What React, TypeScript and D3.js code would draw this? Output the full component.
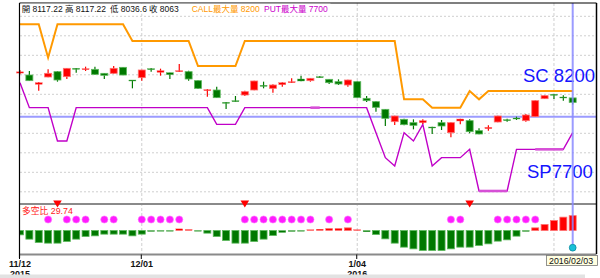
import React from "react";
import * as d3 from "d3";

const opens = [8415,8392,8280,8368,8432,8372,8472,8456,8460,8412,8412,8484,8332,8360,8468,8424,8420,8432,8432,8324,8208,8212,8064,8084,8152,8212,8268,8232,8276,8300,8344,8324,8372,8340,8312,8272,8312,8112,8072,7980,7832,7860,7820,7820,7768,7820,7700,7840,7844,7724,7748,7828,7856,7876,7844,7892,8108,8160,8128,8117.22];
const highs = [8450,8440,8308,8460,8440,8476,8476,8492,8492,8416,8500,8488,8332,8456,8476,8468,8420,8524,8444,8328,8224,8252,8068,8140,8204,8324,8312,8280,8304,8352,8384,8356,8380,8344,8340,8336,8316,8140,8076,7984,7904,7868,7860,7860,7772,7852,7824,7868,7860,7752,7788,7904,7868,7892,7924,8088,8148,8160,8148,8117.22];
const lows = [8400,8320,8204,8364,8312,8344,8420,8440,8392,8344,8408,8388,8232,8324,8432,8384,8344,8428,8324,8224,8132,8116,7984,8072,8140,8208,8232,8180,8252,8296,8316,8312,8360,8284,8272,8252,8116,8068,7952,7780,7792,7788,7740,7804,7684,7732,7644,7800,7692,7680,7724,7824,7832,7852,7832,7888,8104,8104,8084,8036.6];
const closes = [8430,8324,8300,8412,8332,8472,8464,8468,8400,8388,8472,8392,8324,8452,8460,8444,8396,8444,8344,8232,8216,8120,8056,8076,8192,8320,8260,8272,8300,8312,8320,8352,8364,8300,8284,8332,8120,8084,8004,7872,7900,7796,7788,7844,7760,7780,7820,7864,7712,7684,7764,7900,7848,7868,7912,8084,8144,8152,8120,8063];

const callMax = [9000,9000,9000,8600,9000,9000,9000,9000,9000,9000,9000,9000,8800,8800,8800,8800,8800,8800,8800,8500,8500,8500,8500,8500,8800,8800,8800,8800,8800,8800,8800,8800,8800,8800,8800,8800,8800,8800,8800,8800,8800,8100,8100,8100,8000,8000,8000,8000,8200,8100,8200,8200,8200,8200,8200,8200,8200,8200,8200,8200];
const putMax = [8300,8000,8000,8000,7600,7600,8000,8000,8000,8000,8000,8000,8000,8000,8000,8000,8000,8000,8000,8000,8000,7800,7800,7800,8000,8000,8000,8000,8000,8000,8000,8000,8000,8000,8000,8000,8000,8000,7700,7400,7300,7700,7600,7800,7300,7400,7400,7400,7500,7000,7000,7000,7000,7500,7500,7500,7500,7500,7500,7700];
const putHighlight = [[31, 32], [49, 52], [55, 58]];

const ratio = [-8.7,-17.3,-24,-25.3,-25.3,-22,-17.3,-12,-10.7,-7.3,-7.3,-7.3,-10.7,-7.3,-2,-0.7,-0.7,3.3,2,-0.7,-5.3,-12,-20,-25.3,-25.3,-22,-17.3,-10,-4,-2,-0.7,1.3,2.7,4,4,5.3,1.3,-2.7,-8,-16.7,-25.3,-33.3,-36.7,-40,-40,-40,-36.7,-33.3,-33.3,-30,-26.7,-21.3,-18.7,-11.3,-2,5.3,12,20,26.7,29.74];
const circleIdx = [3,5,6,7,9,10,13,14,15,16,17,24,25,26,27,28,29,30,31,33,35,46,47,51,52,53,54,55];
const triangleIdx = [4,24,48];

const tickLabels = [
  { i: 0, a: "11/12", b: "2015" },
  { i: 13, a: "12/01", b: "" },
  { i: 36, a: "1/04", b: "2016" },
];
const monthGrid = [13, 36, 57];
const cursorIndex = 59;
const cursorPrice = 7892;
const cursorDate = "2016/02/03";

export default function App() {
  const W = 600, H = 278;
  const left = 19.5, right = 596.5, top = 3;
  const midLine = 204, lowBottom = 254.5;
  const x = d3.scaleLinear().domain([0, 59]).range([20, 572.7]);
  const y = d3.scaleLinear().domain([7000, 8200]).range([191, 91]);
  const base = 230.5;
  const yr = d3.scaleLinear().domain([0, 30]).range([base, base - 15]);
  const n = closes.length;
  const bw = 7;
  const RED = "#ff0000", REDS = "#ff7070", GRN = "#007800", GRNS = "#5cb85c";

  const callLine = d3.line<number>().x((_, i) => x(i)).y((d) => y(d));
  const putLine = d3.line<number>().x((_, i) => x(i)).y((d) => y(d));
  const hGrid = d3.range(10).map((k) => 16.3 + 19.5 * k);
  const last = n - 1;
  const mix = "'Liberation Sans', 'Noto Sans CJK TC', sans-serif";
  const lib = "'Liberation Sans', Arial, sans-serif";

  return (
    <svg width={W} height={H} style={{ position: "absolute", left: 0, top: 0, background: "#fff" }}>
      <defs>
        <clipPath id="lowclip">
          <rect x={20} y={midLine} width={right - 20} height={lowBottom - midLine} />
        </clipPath>
      </defs>
      {hGrid.map((gy, k) => (
        <line key={"h" + k} x1={20} x2={right} y1={gy} y2={gy} stroke="#cfcfcf" strokeDasharray="2,2" strokeWidth={1} />
      ))}
      {monthGrid.map((gi) => (
        <line key={"v" + gi} x1={x(gi)} x2={x(gi)} y1={top} y2={lowBottom} stroke="#cfcfcf" strokeDasharray="3,2" strokeWidth={1} />
      ))}
      <line x1={20} x2={right} y1={y(cursorPrice)} y2={y(cursorPrice)} stroke="#8a8aff" strokeWidth={2} opacity={0.85} />

      <path d={callLine(callMax) || ""} fill="none" stroke="#ff9900" strokeWidth={2} />
      <path d={putLine(putMax) || ""} fill="none" stroke="#c000c8" strokeWidth={1.4} />
      {putHighlight.map(([a, b], k) => (
        <line key={"ph" + k} x1={x(a)} x2={x(b)} y1={y(putMax[a])} y2={y(putMax[b])} stroke="#d64fd6" strokeWidth={2.6} />
      ))}

      {closes.map((c, i) => {
        const o = opens[i];
        const up = c >= o;
        const fill = up ? RED : GRN;
        const stroke = up ? REDS : GRNS;
        const yt = y(Math.max(o, c));
        const yb = y(Math.min(o, c));
        const h = Math.max(1, yb - yt);
        return (
          <g key={"c" + i}>
            <line x1={x(i)} x2={x(i)} y1={y(highs[i])} y2={y(lows[i])} stroke={up ? RED : GRN} strokeWidth={1.2} />
            <rect x={x(i) - bw / 2} y={yt} width={bw} height={h} fill={fill} stroke={stroke} strokeWidth={h > 2 ? 0.8 : 0.4} />
          </g>
        );
      })}

      <text x={523} y={82} fontFamily={lib} fontSize={18.5} fill="#1515ff">{"SC " + callMax[last]}</text>
      <text x={527} y={177.5} fontFamily={lib} fontSize={18.5} fill="#1515ff">{"SP" + putMax[last]}</text>

      <g clipPath="url(#lowclip)">
        {ratio.map((v, i) => {
          const y0 = yr(Math.max(0, v));
          const y1 = yr(Math.min(0, v));
          const hh = Math.max(0.8, y1 - y0);
          const pos = v >= 0;
          return (
            <rect key={"r" + i} x={x(i) - bw / 2} y={pos ? y1 - hh : y0} width={bw} height={hh}
              fill={pos ? RED : GRN} stroke={pos ? REDS : GRNS} strokeWidth={hh > 2 ? 0.8 : 0.3} />
          );
        })}
      </g>
      {circleIdx.map((ci) => (
        <circle key={"m" + ci} cx={x(ci)} cy={219.5} r={3.6} fill="#ff1cff" stroke="#ff7cff" strokeWidth={0.6} />
      ))}

      <line x1={20} x2={right} y1={midLine} y2={midLine} stroke="#8a8a8a" strokeWidth={2} />
      <line x1={20} x2={right} y1={lowBottom} y2={lowBottom} stroke="#8a8a8a" strokeWidth={2} />
      {triangleIdx.map((ti) => (
        <path key={"t" + ti} d={`M${x(ti) - 4.3},200.5 L${x(ti) + 4.3},200.5 L${x(ti)},207.5 Z`} fill="#ff0000" />
      ))}
      <text x={22} y={214} fontFamily={mix} fontSize={8.8} fill="#ff2020">{"多空比 " + ratio[last]}</text>

      <line x1={x(cursorIndex)} x2={x(cursorIndex)} y1={top} y2={247} stroke="#8a8aff" strokeWidth={2} opacity={0.85} />
      <circle cx={x(cursorIndex)} cy={247.7} r={3.4} fill="#19c0d8" stroke="#0a8aa0" strokeWidth={0.8} />

      <line x1={left} x2={left} y1={top} y2={258} stroke="#000" strokeWidth={1.2} />
      <line x1={left} x2={right} y1={top} y2={top} stroke="#000" strokeWidth={1.2} />
      <line x1={right} x2={right} y1={top} y2={254} stroke="#000" strokeWidth={1.5} />

      <rect x={20.5} y={3.7} width={310} height={10} fill="#fff" />
      <text x={21.7} y={12.3} fontFamily={mix} fontSize={8.5} fill="#111">{"開 " + opens[last]}</text>
      <text x={65} y={12.3} fontFamily={mix} fontSize={8.5} fill="#111">{"高 " + highs[last]}</text>
      <text x={110} y={12.3} fontFamily={mix} fontSize={8.5} fill="#111">{"低 " + lows[last]}</text>
      <text x={149} y={12.3} fontFamily={mix} fontSize={8.5} fill="#111">{"收 " + closes[last]}</text>
      <text x={191.7} y={12.3} fontFamily={mix} fontSize={8.5} fill="#ff9900">{"CALL最大量 " + callMax[last]}</text>
      <text x={264} y={12.3} fontFamily={mix} fontSize={8.5} fill="#cc00cc">{"PUT最大量 " + putMax[last]}</text>

      {tickLabels.map((t) => (
        <g key={"x" + t.i}>
          <line x1={x(t.i) - 0.5} x2={x(t.i) - 0.5} y1={lowBottom} y2={259} stroke="#000" strokeWidth={1} />
          <text x={x(t.i)} y={267.3} textAnchor="middle" fontFamily={lib} fontWeight="bold" fontSize={9} fill="#111">{t.a}</text>
          {t.b && <text x={x(t.i)} y={276.8} textAnchor="middle" fontFamily={lib} fontWeight="bold" fontSize={9} fill="#111">{t.b}</text>}
        </g>
      ))}
      <rect x={0} y={274.5} width={585} height={3.5} fill="#e2e2e2" />

      <rect x={546.5} y={255.5} width={51} height={10} fill="#ffffe1" stroke="#777" strokeWidth={0.8} />
      <text x={549} y={263.6} fontFamily={lib} fontSize={8.8} fill="#111">{cursorDate}</text>
    </svg>
  );
}
